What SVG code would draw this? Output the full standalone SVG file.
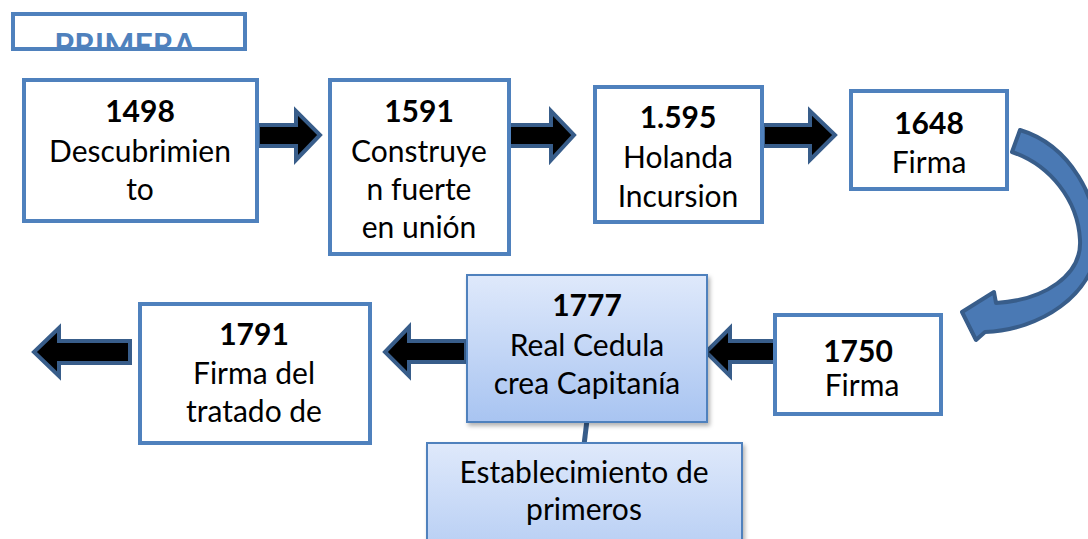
<svg xmlns="http://www.w3.org/2000/svg" width="1088" height="539" viewBox="0 0 1088 539">
<style>
.box{fill:#ffffff;stroke:#4f81bd;stroke-width:4}
.gbox{fill:url(#g);stroke:#4f81bd;stroke-width:2}
.arr{fill:#000000;stroke:#385d8a;stroke-width:4;stroke-linejoin:miter}
.t{font-family:Lato,"Liberation Sans",sans-serif;font-size:30px;fill:#000000;text-anchor:middle}
.b{font-weight:bold}
</style>
<defs>
<linearGradient id="g" x1="0" y1="0" x2="0" y2="1">
<stop offset="0" stop-color="#dfe9fb"/>
<stop offset="1" stop-color="#a8c4f1"/>
</linearGradient>
<filter id="sh" x="-10%" y="-10%" width="125%" height="125%">
<feDropShadow dx="2" dy="3" stdDeviation="2" flood-color="#000" flood-opacity="0.3"/>
</filter>
<clipPath id="tc"><rect x="13" y="14" width="232" height="33"/></clipPath>
</defs>
<g id="title">
<rect x="13" y="14" width="232" height="35" class="box"/>
<text x="125" y="57" clip-path="url(#tc)" style="font-family:Lato,'Liberation Sans',sans-serif;font-size:32px;font-weight:bold;fill:#4f81bd;text-anchor:middle">PRIMERA</text>
</g>
<g id="connectors">
<polygon class="arr" points="258,125 296,125 296,111 320,135 296,160 296,146 258,146"/>
<polygon class="arr" points="508,125 551,125 551,111 574,135 551,160 551,146 508,146"/>
<polygon class="arr" points="763,125 810,125 810,111 835,135 810,160 810,146 763,146"/>
<path d="M1020,130 C1070,145 1100,200 1097,245 C1094,295 1040,330 985,332 L976,340 L962,312 L994,292 L996,303 C1045,300 1082,275 1080,240 C1078,200 1050,165 1012,152 Z" fill="#4a79b4" stroke="#385d8a" stroke-width="4" stroke-linejoin="round"/>
<polygon class="arr" points="777,341 730,341 730,328 706,352 730,376 730,362 777,362"/>
<polygon class="arr" points="466,341 409,341 409,327 385,352 409,376 409,362 466,362"/>
<polygon class="arr" points="130,341 59,341 59,328 34,352 59,376 59,363 130,363"/>
<line x1="587" y1="420" x2="584" y2="445" stroke="#385d8a" stroke-width="5"/>
</g>
<g id="n1498">
<rect x="24" y="80" width="233" height="141" class="box"/>
<text class="t b" x="140" y="122">1498</text>
<text class="t" x="140" y="162">Descubrimien</text>
<text class="t" x="140" y="200">to</text>
</g>
<g id="n1591">
<rect x="330" y="80" width="179" height="174" class="box"/>
<text class="t b" x="419" y="122">1591</text>
<text class="t" x="419" y="162">Construye</text>
<text class="t" x="419" y="200">n fuerte</text>
<text class="t" x="419" y="238">en unión</text>
</g>
<g id="n1595">
<rect x="595" y="87" width="167" height="135" class="box"/>
<text class="t b" x="678" y="128">1.595</text>
<text class="t" x="678" y="168">Holanda</text>
<text class="t" x="678" y="207">Incursion</text>
</g>
<g id="n1648">
<rect x="851" y="91" width="156" height="98" class="box"/>
<text class="t b" x="929" y="134">1648</text>
<text class="t" x="929" y="173">Firma</text>
</g>
<g id="n1750">
<rect x="775" y="315" width="166" height="99" class="box"/>
<text class="t b" x="858" y="362">1750</text>
<text class="t" x="862" y="396">Firma</text>
</g>
<g id="n1777">
<rect x="467" y="275" width="240" height="147" class="gbox" filter="url(#sh)"/>
<text class="t b" x="587" y="316">1777</text>
<text class="t" x="587" y="356">Real Cedula</text>
<text class="t" x="587" y="394">crea Capitanía</text>
</g>
<g id="nEst">
<rect x="427" y="443" width="315" height="150" class="gbox" filter="url(#sh)"/>
<text class="t" x="584" y="483">Establecimiento de</text>
<text class="t" x="584" y="520">primeros</text>
</g>
<g id="n1791">
<rect x="140" y="304" width="230" height="139" class="box"/>
<text class="t b" x="254" y="345">1791</text>
<text class="t" x="254" y="384"> Firma del</text>
<text class="t" x="254" y="422">tratado de</text>
</g>
</svg>
